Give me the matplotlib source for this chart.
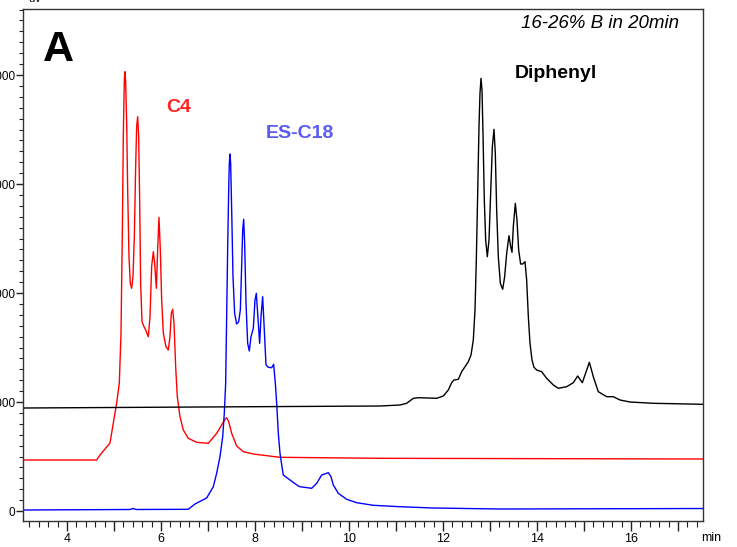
import numpy as np
import matplotlib
matplotlib.use('Agg')
import matplotlib.pyplot as plt
from matplotlib.ticker import MultipleLocator, FuncFormatter

plt.rcParams['font.family'] = ['Liberation Sans', 'DejaVu Sans']

# retention time (min) and detector signal (uV)
c4_time = [3.064, 4.632, 4.702, 4.915, 5.021, 5.057, 5.113, 5.149, 5.177, 5.199,
           5.220, 5.234, 5.248, 5.270, 5.291, 5.319, 5.347, 5.376, 5.404, 5.433,
           5.461, 5.482, 5.504, 5.525, 5.546, 5.567, 5.596, 5.638, 5.674, 5.730,
           5.766, 5.801, 5.837, 5.865, 5.901, 5.929, 5.957, 5.986, 6.014, 6.050,
           6.106, 6.156, 6.191, 6.220, 6.248, 6.277, 6.312, 6.347, 6.404, 6.475,
           6.581, 6.759, 7.007, 7.184, 7.291, 7.362, 7.397, 7.440, 7.504, 7.610,
           7.752, 7.964, 8.532, 10.660, 17.53]
c4_signal = [4679, 4679, 5138, 6239, 8991, 9908, 11715, 16302, 25476, 34650,
             39540, 40302, 39384, 35568, 29449, 23330, 20889, 20430, 21495, 25165,
             31586, 35256, 36173, 34339, 28531, 20889, 17366, 16908, 16605, 15991,
             17826, 22413, 23789, 22724, 20430, 23944, 26944, 23944, 19357, 16302,
             15073, 14770, 15991, 18137, 18504, 17220, 13238, 10486, 8651, 7431,
             6669, 6302, 6211, 7128, 7890, 8413, 8559, 8192, 7128, 5963,
             5440, 5229, 4926, 4835, 4771]

es_c18_time = [3.064, 5.340, 5.404, 5.47, 6.581, 6.723, 6.972, 7.113, 7.184, 7.255,
               7.313, 7.347, 7.376, 7.397, 7.418, 7.440, 7.454, 7.468, 7.482, 7.504,
               7.532, 7.567, 7.610, 7.653, 7.688, 7.716, 7.738, 7.759, 7.780, 7.809,
               7.844, 7.879, 7.915, 7.964, 8.000, 8.028, 8.057, 8.099, 8.128, 8.163,
               8.191, 8.234, 8.284, 8.355, 8.397, 8.433, 8.461, 8.496, 8.532, 8.574,
               8.602, 8.745, 8.921, 8.957, 9.206, 9.313, 9.419, 9.560, 9.617, 9.666,
               9.772, 9.951, 10.164, 10.517, 11.085, 11.794, 13.213, 17.53]
es_c18_signal = [92, 138, 229, 138, 156, 642, 1193, 2229, 3459, 4982,
                 6816, 8963, 11715, 17826, 23944, 29449, 31898, 32752, 31898, 27614,
                 21495, 18137, 17155, 17366, 18440, 22413, 25779, 26761, 24559, 19054,
                 15385, 14678, 15991, 16761, 19357, 19972, 18137, 15385, 17826, 19660,
                 17220, 13394, 13183, 13146, 13458, 11715, 9881, 7128, 5293, 4064,
                 3303, 2844, 2294, 2229, 2083, 2541, 3303, 3514, 3147, 2385,
                 1624, 1073, 761, 523, 394, 275, 183, 229]

diphenyl_time = [3.064, 6.830, 10.660, 11.085, 11.227, 11.369, 11.475, 11.865, 12.007, 12.113,
                 12.184, 12.234, 12.326, 12.397, 12.468, 12.539, 12.596, 12.645, 12.681, 12.709,
                 12.738, 12.766, 12.787, 12.809, 12.830, 12.851, 12.879, 12.908, 12.943, 12.979,
                 13.014, 13.050, 13.085, 13.113, 13.142, 13.177, 13.220, 13.270, 13.312, 13.355,
                 13.404, 13.440, 13.468, 13.496, 13.539, 13.574, 13.610, 13.652, 13.695, 13.745,
                 13.780, 13.816, 13.851, 13.894, 13.936, 13.993, 14.099, 14.206, 14.348, 14.454,
                 14.632, 14.772, 14.866, 14.964, 15.043, 15.113, 15.160, 15.198, 15.304, 15.483,
                 15.623, 15.766, 15.979, 16.474, 17.532]
diphenyl_signal = [9449, 9541, 9633, 9725, 9881, 10339, 10394, 10339, 10550, 11101,
                   11771, 12018, 12082, 12780, 13238, 13697, 14311, 15688, 18440, 23027,
                   29143, 35259, 38315, 39693, 38623, 34650, 28531, 24862, 23330, 24862,
                   29143, 33421, 35018, 32815, 27614, 23330, 20889, 20339, 21495, 23641,
                   25257, 24248, 23733, 26082, 28228, 26696, 23944, 22660, 22660, 22871,
                   21192, 17825, 15385, 13853, 13183, 12935, 12779, 12174, 11559, 11257,
                   11404, 11771, 12385, 11771, 12752, 13642, 12935, 12321, 10945, 10486,
                   10486, 10183, 10000, 9881, 9789]

x_labels = [4, 6, 8, 10, 12, 14, 16]
y_ticks = [0, 10000, 20000, 30000, 40000]

W, H = 737, 547
fig = plt.figure(figsize=(W / 100, H / 100), dpi=100)
ax = fig.add_axes([23 / W, (H - 521) / H, 680 / W, 512 / H])

ax.plot(c4_time, c4_signal, color='#ff0000', lw=1.0)
ax.plot(es_c18_time, es_c18_signal, color='#0000ff', lw=1.0)
ax.plot(diphenyl_time, diphenyl_signal, color='black', lw=1.0)

ax.set_xlim(3.064, 17.532)
ax.set_ylim(-917, 46055)

ax.xaxis.set_major_locator(MultipleLocator(1))
ax.xaxis.set_minor_locator(MultipleLocator(0.2))
ax.xaxis.set_major_formatter(FuncFormatter(lambda v, p: f'{int(round(v))}' if int(round(v)) in x_labels else ''))
ax.set_yticks(y_ticks)
ax.yaxis.set_minor_locator(MultipleLocator(1000))

ax.tick_params(axis='x', which='major', length=7, width=1, labelsize=9, pad=2, color='#222222')
ax.tick_params(axis='x', which='minor', length=4, width=0.8, color='#222222')
ax.tick_params(axis='y', which='major', length=5, width=1, labelsize=8.5, pad=0.5, color='#222222')
ax.tick_params(axis='y', which='minor', length=3, width=0.8, color='#222222')
for s in ax.spines.values():
    s.set_color('#333333')
    s.set_linewidth(1.0)

fig.text(58 / W, 1 - 50 / H, 'A', fontsize=31, fontweight='bold', ha='center', va='center')
fig.text(179 / W, 1 - 107 / H, 'C4', fontsize=14, fontweight='bold', color='#ff2222', ha='center', va='center')
fig.text(300 / W, 1 - 134 / H, 'ES-C18', fontsize=14, fontweight='bold', color='#5a5af0', ha='center', va='center')
fig.text(556 / W, 1 - 73 / H, 'Diphenyl', fontsize=14, fontweight='bold', color='black', ha='center', va='center')
fig.text(600 / W, 1 - 24 / H, '16-26% B in 20min', fontsize=13.5, style='italic', ha='center', va='center')
fig.text(711 / W, 1 - 538 / H, 'min', fontsize=9, ha='center', va='center')
fig.text(28 / W, 1 - 4 / H, 'uV', fontsize=8, ha='left', va='bottom')

fig.savefig('out.png', dpi=100)
